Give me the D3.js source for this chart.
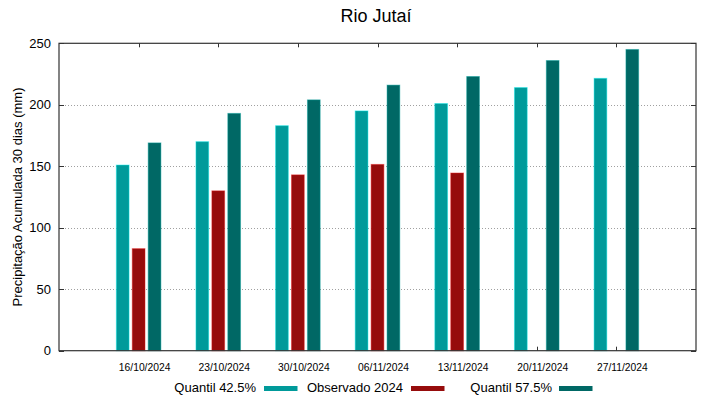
<!DOCTYPE html>
<html lang="pt">
<head>
  <meta charset="UTF-8">
  <title>Rio Jutaí</title>
  <script src="https://d3js.org/d3.v7.min.js"></script>
  <style>
    body { margin: 0; padding: 0; background: #fff; }
    svg { display: block; font-family: "Liberation Sans", Arial, sans-serif; }
  </style>
</head>
<body>
  <div id="chart"></div>
  <script>
    // Data
    const dates = ["16/10/2024", "23/10/2024", "30/10/2024", "06/11/2024", "13/11/2024", "20/11/2024", "27/11/2024"];
    const q425 = [151, 170, 183, 195, 201, 214, 221.5];
    const observed = [83, 130, 143, 151.5, 144.5, null, null];
    const q575 = [169, 193, 204, 216, 223, 236, 245];
    const yTicks = [0, 50, 100, 150, 200, 250];

    const series = [
      { name: "Quantil 42.5%", values: q425, color: "#009a9a", offset: -0.2 },
      { name: "Observado 2024", values: observed, color: "#960c0c", offset: 0 },
      { name: "Quantil 57.5%", values: q575, color: "#006865", offset: 0.2 }
    ];

    const width = 719, height = 399;
    const plotL = 59, plotR = 696, plotT = 43.3, plotB = 350.7;

    const x = d3.scaleLinear().domain([-1, 7]).range([plotL, plotR]);
    const y = d3.scaleLinear().domain([0, 250]).range([plotB, plotT]);
    const barW = 0.16;

    const svg = d3.create("svg")
      .attr("width", width)
      .attr("height", height);

    // title
    svg.append("text")
      .attr("x", 376)
      .attr("y", 22)
      .attr("text-anchor", "middle")
      .attr("font-size", 18)
      .attr("fill", "#000")
      .text("Rio Jutaí");

    // grid lines
    svg.append("g")
      .selectAll("line")
      .data(yTicks.filter(d => d > 0 && d < 250))
      .join("line")
      .attr("x1", plotL).attr("x2", plotR)
      .attr("y1", d => Math.round(y(d)) + 0.5).attr("y2", d => Math.round(y(d)) + 0.5)
      .attr("stroke", "#a0a0a0")
      .attr("stroke-width", 1)
      .attr("stroke-dasharray", "1,2");

    // tick marks (inward, mirrored)
    const ticks = svg.append("g").attr("stroke", "#333").attr("stroke-width", 1);
    yTicks.forEach(t => {
      const yy = Math.round(y(t)) + 0.5;
      ticks.append("line").attr("x1", plotL).attr("x2", plotL + 5).attr("y1", yy).attr("y2", yy);
      ticks.append("line").attr("x1", plotR - 5).attr("x2", plotR).attr("y1", yy).attr("y2", yy);
    });
    dates.forEach((d, i) => {
      const xx = Math.round(x(i)) + 0.5;
      ticks.append("line").attr("x1", xx).attr("x2", xx).attr("y1", plotT).attr("y2", plotT + 4);
      ticks.append("line").attr("x1", xx).attr("x2", xx).attr("y1", plotB).attr("y2", plotB - 4);
    });

    // bars
    series.forEach(s => {
      svg.append("g")
        .selectAll("rect")
        .data(s.values.map((v, i) => ({ v, i })).filter(d => d.v != null))
        .join("rect")
        .attr("x", d => x(d.i + s.offset - barW / 2))
        .attr("width", x(barW) - x(0))
        .attr("y", d => y(d.v))
        .attr("height", d => y(0) - y(d.v))
        .attr("fill", s.color)
        .attr("stroke", d3.color(s.color).brighter(1.2))
        .attr("stroke-opacity", 0.45)
        .attr("stroke-width", 1);
    });

    // border
    svg.append("rect")
      .attr("x", plotL).attr("y", plotT)
      .attr("width", plotR - plotL).attr("height", plotB - plotT)
      .attr("fill", "none")
      .attr("stroke", "#333")
      .attr("stroke-width", 1.2);

    // y tick labels
    svg.append("g")
      .selectAll("text")
      .data(yTicks)
      .join("text")
      .attr("x", plotL - 8)
      .attr("y", d => y(d))
      .attr("dy", "0.36em")
      .attr("text-anchor", "end")
      .attr("font-size", 13)
      .text(d => d);

    // x tick labels
    svg.append("g")
      .selectAll("text")
      .data(dates)
      .join("text")
      .attr("x", (d, i) => x(i) + 6)
      .attr("y", 371)
      .attr("text-anchor", "middle")
      .attr("font-size", 10.3)
      .text(d => d);

    // y axis label
    svg.append("text")
      .attr("transform", `translate(22,${(plotT + plotB) / 2}) rotate(-90)`)
      .attr("text-anchor", "middle")
      .attr("font-size", 13)
      .text("Precipitação Acumulada 30 dias (mm)");

    // legend
    const legendX = [[256, 264], [403, 411], [552, 559]];
    series.forEach((s, i) => {
      svg.append("text")
        .attr("x", legendX[i][0])
        .attr("y", 392)
        .attr("text-anchor", "end")
        .attr("font-size", 13)
        .text(s.name);
      svg.append("rect")
        .attr("x", legendX[i][1])
        .attr("y", 386)
        .attr("width", 33.5)
        .attr("height", 5)
        .attr("fill", s.color);
    });

    document.getElementById("chart").appendChild(svg.node());
  </script>
</body>
</html>
